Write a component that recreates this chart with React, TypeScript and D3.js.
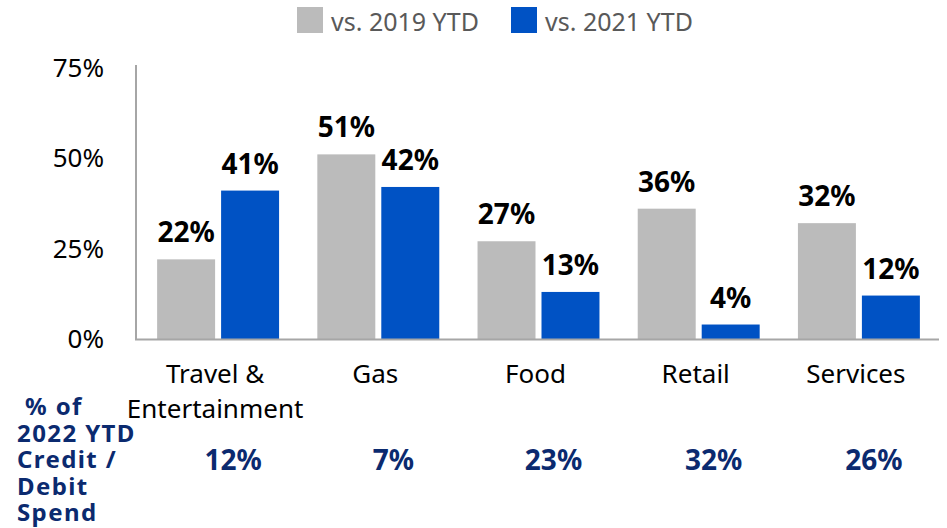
import React from "react";
import * as d3 from "d3";

const categories = ["Travel & Entertainment", "Gas", "Food", "Retail", "Services"];
const categoryLines = [["Travel &", "Entertainment"], ["Gas"], ["Food"], ["Retail"], ["Services"]];
const vs2019 = [22, 51, 27, 36, 32];
const vs2021 = [41, 42, 13, 4, 12];
const shareOfSpend = ["12%", "7%", "23%", "32%", "26%"];
const yTicks = [0, 25, 50, 75];
const seriesKeys = ["vs. 2019 YTD", "vs. 2021 YTD"];
const seriesColors = ["#BBBBBB", "#0052C4"];
const shareTitle = ["% of", "2022 YTD", "Credit /", "Debit", "Spend"];

const W = 947;
const H = 528;
const FONT = "'Noto Sans', 'Open Sans', sans-serif";
const NAVY = "#0B2A6F";

export default function App() {
  const y = d3.scaleLinear().domain([0, 75]).range([339, 67.5]);
  const x0 = d3.scaleBand<string>().domain(categories).range([138, 939]);
  const x1 = d3
    .scaleBand<string>()
    .domain(seriesKeys)
    .range([0, x0.bandwidth()])
    .paddingInner(0.09375)
    .paddingOuter(0.299);
  const data = categories.map((c, i) => ({ c, vals: [vs2019[i], vs2021[i]] }));

  return (
    <svg width={W} height={H} style={{ position: "absolute", left: 0, top: 0, fontFamily: FONT }}>
      <rect width={W} height={H} fill="#fff" />
      {/* legend */}
      {seriesKeys.map((k, i) => {
        const lx = [297, 511][i];
        return (
          <g key={k}>
            <rect x={lx} y={7} width={26} height={26} fill={seriesColors[i]} />
            <text x={lx + 34} y={31} fontSize={25} fill="#595959">
              {k}
            </text>
          </g>
        );
      })}
      {/* y axis */}
      <line x1={136} x2={136} y1={65} y2={339.5} stroke="#A6A6A6" strokeWidth={2} />
      {yTicks.map((t) => (
        <text key={t} x={104} y={y(t)} dy="0.35em" textAnchor="end" fontSize={26} fill="#000">
          {t}%
        </text>
      ))}
      {/* bars */}
      {data.map((d) => (
        <g key={d.c} transform={`translate(${x0(d.c)},0)`}>
          {d.vals.map((v, j) => {
            const bx = x1(seriesKeys[j])!;
            return (
              <g key={j}>
                <rect x={bx} y={y(v)} width={x1.bandwidth()} height={y(0) - y(v)} fill={seriesColors[j]} />
                <text
                  x={bx + x1.bandwidth() / 2}
                  y={y(v) - 17}
                  textAnchor="middle"
                  fontSize={28}
                  fontWeight="bold"
                  fill="#000"
                >
                  {v}%
                </text>
              </g>
            );
          })}
        </g>
      ))}
      {/* x axis */}
      <line x1={135} x2={939} y1={339.5} y2={339.5} stroke="#A6A6A6" strokeWidth={2} />
      {categories.map((c, i) => (
        <text key={c} textAnchor="middle" fontSize={26} fill="#000">
          {categoryLines[i].map((ln, k) => (
            <tspan key={k} x={x0(c)! + x0.bandwidth() / 2 - 3} y={383 + k * 35}>
              {ln}
            </tspan>
          ))}
        </text>
      ))}
      {/* share row */}
      {shareTitle.map((ln, k) => (
        <text
          key={ln}
          x={k === 0 ? 25 : 17}
          y={415 + k * 26.5}
          fontSize={24}
          letterSpacing={1.4}
          fontWeight="bold"
          fill={NAVY}
        >
          {ln}
        </text>
      ))}
      {categories.map((c, i) => (
        <text
          key={c + "s"}
          x={x0(c)! + x0.bandwidth() / 2 + 15}
          y={470}
          textAnchor="middle"
          fontSize={28}
          fontWeight="bold"
          fill={NAVY}
        >
          {shareOfSpend[i]}
        </text>
      ))}
    </svg>
  );
}
